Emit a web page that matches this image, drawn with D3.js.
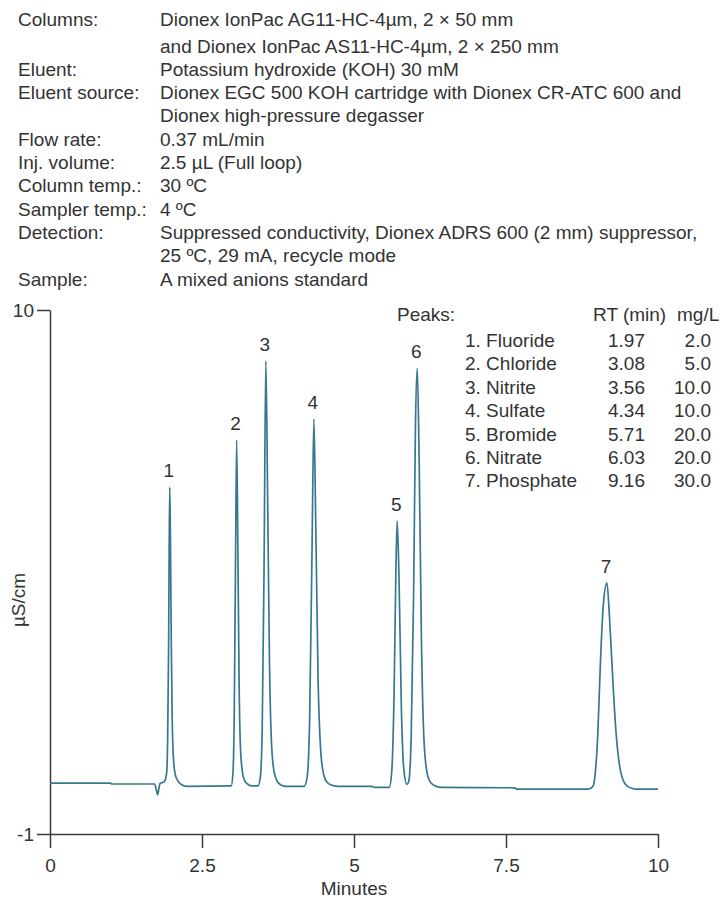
<!DOCTYPE html>
<html lang="en">
<head>
<meta charset="UTF-8">
<title>Mixed anions chromatogram</title>
<script src="https://cdn.jsdelivr.net/npm/d3@7/dist/d3.min.js"></script>
<style>
    body { margin: 0; background: #fff; }
    svg text { font-family: "Liberation Sans", Arial, sans-serif; fill: #333; }
</style>
</head>
<body>
<svg id="chart" width="722" height="900"></svg>
<script>
    // method conditions (label, value) - one entry per printed line
    const conditionLabels = ["Columns:", "", "Eluent:", "Eluent source:", "", "Flow rate:", "Inj. volume:",
        "Column temp.:", "Sampler temp.:", "Detection:", "", "Sample:"];
    const conditionValues = [
        "Dionex IonPac AG11-HC-4µm, 2 × 50 mm",
        "and Dionex IonPac AS11-HC-4µm, 2 × 250 mm",
        "Potassium hydroxide (KOH) 30 mM",
        "Dionex EGC 500 KOH cartridge with Dionex CR-ATC 600 and",
        "Dionex high-pressure degasser",
        "0.37 mL/min",
        "2.5 µL (Full loop)",
        "30 ºC",
        "4 ºC",
        "Suppressed conductivity, Dionex ADRS 600 (2 mm) suppressor,",
        "25 ºC, 29 mA, recycle mode",
        "A mixed anions standard"
    ];

    // peak table
    const peakNames = ["Fluoride", "Chloride", "Nitrite", "Sulfate", "Bromide", "Nitrate", "Phosphate"];
    const peakRT = ["1.97", "3.08", "3.56", "4.34", "5.71", "6.03", "9.16"];
    const peakConc = ["2.0", "5.0", "10.0", "10.0", "20.0", "20.0", "30.0"];

    // apex of each peak (min, µS/cm)
    const apexTime = [1.97, 3.07, 3.55, 4.34, 5.71, 6.04, 9.16];
    const apexValue = [6.28, 7.27, 8.93, 7.71, 5.57, 8.78, 4.27];

    const xTicks = [0, 2.5, 5, 7.5, 10];
    const yTicks = [-1, 10];

    // trace points (min, µS/cm)
    const trace = [
        [0, 0.07], [0.99, 0.07], [1.02, 0.05], [1.72, 0.05], [1.75, -0.08], [1.77, -0.18], [1.79, -0.05],
        [1.81, 0.06], [1.88, 0.1], [1.92, 0.3],
        // 1
        [1.935, 1.0], [1.95, 2.8], [1.96, 5.0], [1.97, 6.28], [1.98, 5.3], [1.995, 3.0], [2.01, 1.4],
        [2.03, 0.6], [2.06, 0.25], [2.1, 0.12], [2.16, 0.04], [2.25, 0.0],
        // 2
        [2.98, 0.01], [3.01, 0.3], [3.03, 1.5], [3.05, 4.5], [3.07, 7.27], [3.09, 5.0], [3.11, 2.2],
        [3.13, 0.9], [3.16, 0.35], [3.2, 0.12], [3.26, 0.04], [3.32, 0.01],
        // 3
        [3.42, 0.01], [3.46, 0.2], [3.49, 1.2], [3.52, 4.5], [3.55, 8.93], [3.58, 6.0], [3.61, 2.6],
        [3.64, 1.0], [3.68, 0.35], [3.73, 0.12], [3.8, 0.03], [3.88, 0.0],
        // 4
        [4.18, 0.0], [4.23, 0.2], [4.27, 1.4], [4.31, 5.0], [4.34, 7.71], [4.37, 5.6], [4.41, 2.2],
        [4.45, 0.8], [4.5, 0.25], [4.56, 0.08], [4.64, 0.02], [4.75, 0.0],
        [5.3, 0.0], [5.33, -0.02],
        // 5 and 6
        [5.58, -0.02], [5.62, 0.3], [5.66, 2.0], [5.69, 4.6], [5.71, 5.57], [5.74, 4.4], [5.78, 1.6],
        [5.82, 0.35], [5.87, 0.04], [5.9, 0.1], [5.94, 1.0], [5.98, 4.0], [6.01, 7.5], [6.04, 8.78],
        [6.07, 7.0], [6.11, 3.0], [6.15, 1.0], [6.2, 0.3], [6.26, 0.08], [6.35, 0.0], [6.45, -0.02],
        [7.64, -0.03], [7.68, -0.06],
        // 7
        [8.85, -0.06], [8.93, 0.0], [8.97, 0.3], [9.01, 1.1], [9.05, 2.5], [9.1, 3.8], [9.16, 4.27],
        [9.2, 3.6], [9.25, 2.4], [9.3, 1.3], [9.36, 0.5], [9.42, 0.15], [9.5, 0.0], [9.6, -0.05],
        [9.65, -0.06], [10.0, -0.06]
    ];

    const fontSize = "19px";
    const svg = d3.select("#chart");

    // header block
    const header = svg.append("g").style("font-size", fontSize);
    const rowY = i => i === 0 ? 26 : 52.5 + (i - 1) * 23.3;
    header.selectAll(".lbl")
        .data(conditionLabels)
        .enter().append("text")
        .attr("class", "lbl")
        .attr("x", 18)
        .attr("y", (d, i) => rowY(i))
        .text(d => d);
    header.selectAll(".val")
        .data(conditionValues)
        .enter().append("text")
        .attr("class", "val")
        .attr("x", 160)
        .attr("y", (d, i) => rowY(i))
        .text(d => d);

    // scales
    const x = d3.scaleLinear().domain([0, 10]).range([50, 658]);
    const y = d3.scaleLinear().domain([-1, 10]).range([834, 310]);

    const xAxis = d3.axisBottom(x).tickValues(xTicks).tickSize(14).tickSizeOuter(0).tickPadding(11)
        .tickFormat(d3.format("~g"));
    // plain hyphen for the negative tick, as printed
    const yAxis = d3.axisLeft(y).tickValues(yTicks).tickSize(13).tickSizeOuter(0).tickPadding(3)
        .tickFormat(d => String(d));

    const gx = svg.append("g").attr("transform", `translate(0,${y(-1)})`).call(xAxis);
    const gy = svg.append("g").attr("transform", `translate(${x(0)},0)`).call(yAxis);
    [gx, gy].forEach(g => {
        g.selectAll("path, line").attr("stroke", "#3a3a3a").attr("stroke-width", 1.5);
        g.selectAll("text").style("font-size", fontSize).attr("fill", "#333");
    });

    svg.append("text")
        .attr("x", (x(0) + x(10)) / 2)
        .attr("y", 895)
        .attr("text-anchor", "middle")
        .style("font-size", fontSize)
        .text("Minutes");

    svg.append("text")
        .attr("transform", "translate(25,600) rotate(-90)")
        .attr("text-anchor", "middle")
        .style("font-size", fontSize)
        .text("µS/cm");

    // trace
    const line = d3.line()
        .x(d => x(d[0]))
        .y(d => y(d[1]))
        .curve(d3.curveMonotoneX);

    svg.append("path")
        .datum(trace)
        .attr("fill", "none")
        .attr("stroke", "#37788f")
        .attr("stroke-width", 1.7)
        .attr("stroke-linejoin", "round")
        .attr("d", line);

    // peak numbers
    svg.selectAll(".pk")
        .data(apexTime)
        .enter().append("text")
        .attr("class", "pk")
        .attr("x", d => x(d) - 1)
        .attr("y", (d, i) => y(apexValue[i]) - 10)
        .attr("text-anchor", "middle")
        .style("font-size", fontSize)
        .text((d, i) => i + 1);

    // peak table
    const table = svg.append("g").style("font-size", fontSize);
    const tRow = i => 347 + i * 23.4;
    table.append("text").attr("x", 397).attr("y", 321).text("Peaks:");
    table.append("text").attr("x", 593).attr("y", 321).text("RT (min)");
    table.append("text").attr("x", 677).attr("y", 321).text("mg/L");
    table.selectAll(".nm")
        .data(peakNames)
        .enter().append("text")
        .attr("x", 465)
        .attr("y", (d, i) => tRow(i))
        .text((d, i) => `${i + 1}. ${d}`);
    table.selectAll(".rt")
        .data(peakRT)
        .enter().append("text")
        .attr("x", 645)
        .attr("y", (d, i) => tRow(i))
        .attr("text-anchor", "end")
        .text(d => d);
    table.selectAll(".cc")
        .data(peakConc)
        .enter().append("text")
        .attr("x", 711)
        .attr("y", (d, i) => tRow(i))
        .attr("text-anchor", "end")
        .text(d => d);
</script>
</body>
</html>
